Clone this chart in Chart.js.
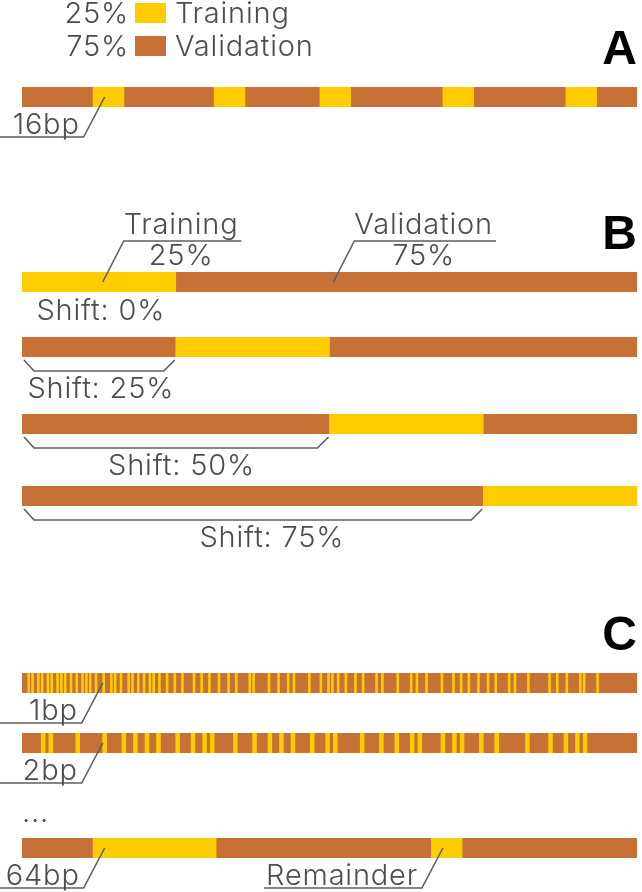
<!DOCTYPE html>
<html>
<head>
<meta charset="utf-8">
<script src="https://cdn.jsdelivr.net/npm/chart.js@4.4.1/dist/chart.umd.min.js"></script>
<style>
  body { margin: 0; background: #fff; }
  #wrap { position: relative; width: 642px; height: 892px; overflow: hidden; }
  #wrap canvas { position: absolute; left: 0; top: 0; }
</style>
</head>
<body>
<div id="wrap"></div>
<script>
// colours
const TRAIN = '#ffcc00';
const VALID = '#c87137';
const INK = '#4d4d4d';
const LINE = '#5f5f5f';
const FONT = '300 29px Inter, "Open Sans", sans-serif';
const BOLD = 'bold 48px "Liberation Sans", Arial, sans-serif';

// the split
const splitLabels = ['Training', 'Validation'];
const splitShares = [25, 75];

// length of the sequence drawn in every bar (bp)
const SEQ_LEN = 320;

// A: 16bp blocks (start, bp)
const blockLen = 16;
const blockStarts = [37, 100, 155, 219, 283];

// B: shift of the training window (%)
const shifts = [0, 25, 50, 75];

// C: training stripes at 1bp and 2bp resolution (start, bp)
const stripes1bp = [3, 5, 8, 10, 13, 15, 18, 20, 22, 25, 28, 31, 33, 35, 38, 42, 46, 48, 51, 55,
  57, 60, 63, 66, 68, 71, 75, 79, 83, 89, 93, 97, 102, 107, 111, 118, 120, 128, 133, 138,
  141, 149, 155, 159, 161, 164, 168, 173, 177, 184, 187, 195, 202, 205, 210, 218, 224, 228,
  232, 237, 242, 246, 253, 256, 263, 274, 278, 283, 290, 292, 299];
const stripes2bp = [10, 14, 28, 42, 52, 58, 64, 70, 80, 88, 94, 98, 110, 120, 128, 134, 140,
  150, 158, 162, 176, 186, 194, 202, 206, 218, 224, 228, 238, 246, 262, 274, 282, 288, 292];
// C: 64bp blocks, and the short remainder block
const blocks64 = [[37, 101]];
const remainderBlocks = [[213, 229]];

// text + leaders drawn around each bar
const notesPlugin = {
  id: 'notes',
  afterDatasetsDraw(chart, args, opts) {
    const ctx = chart.ctx;
    const xs = chart.scales.x;
    const { top, bottom, right } = chart.chartArea;
    const mid = (top + bottom) / 2;
    ctx.save();
    ctx.strokeStyle = LINE;
    ctx.lineWidth = 1.6;
    ctx.fillStyle = INK;
    ctx.font = FONT;
    ctx.letterSpacing = '0.8px';
    ctx.textBaseline = 'alphabetic';
    for (const n of opts.items || []) {
      if (n.kind === 'legend') {
        splitLabels.forEach((lab, i) => {
          const base = 23 + i * 33;
          ctx.textAlign = 'right';
          ctx.fillStyle = INK;
          ctx.fillText(splitShares[i] + '%', 129, base);
          ctx.fillStyle = i === 0 ? TRAIN : VALID;
          ctx.fillRect(135, base - 20, 31, 20);
          ctx.fillStyle = INK;
          ctx.textAlign = 'left';
          ctx.fillText(lab, 175, base);
        });
      } else if (n.kind === 'panel') {
        ctx.save();
        ctx.font = BOLD;
        ctx.letterSpacing = '0px';
        ctx.fillStyle = '#000';
        ctx.textAlign = 'right';
        ctx.fillText(n.text, right, top - 23);
        ctx.restore();
      } else if (n.kind === 'down') {
        const px = xs.getPixelForValue(n.at);
        const ex = px - 21, ey = mid + 40;
        const w = ctx.measureText(n.text).width;
        const tx = ex - 4 - w;
        ctx.beginPath();
        ctx.moveTo(px, mid);
        ctx.lineTo(ex, ey);
        ctx.lineTo(n.toEdge ? 0 : tx - 2, ey);
        ctx.stroke();
        ctx.textAlign = 'left';
        ctx.fillText(n.text, tx, ey - 3);
      } else if (n.kind === 'up') {
        const px = xs.getPixelForValue(n.at);
        const ex = px + 21, ey = mid - 41;
        const w = ctx.measureText(n.text).width;
        ctx.beginPath();
        ctx.moveTo(px, mid);
        ctx.lineTo(ex, ey);
        ctx.lineTo(ex + w + 3, ey);
        ctx.stroke();
        ctx.textAlign = 'left';
        ctx.fillText(n.text, ex, ey - 7);
        ctx.textAlign = 'center';
        ctx.fillText(n.sub, ex + w / 2, ey + 24);
      } else if (n.kind === 'below') {
        ctx.textAlign = 'center';
        ctx.fillText(n.text, xs.getPixelForValue(n.at), bottom + 28);
      } else if (n.kind === 'bracket') {
        const x0 = xs.getPixelForValue(0), x1 = xs.getPixelForValue(n.to);
        ctx.beginPath();
        ctx.moveTo(x0 + 2, bottom + 3);
        ctx.lineTo(x0 + 12, bottom + 14);
        ctx.lineTo(x1 - 12, bottom + 14);
        ctx.lineTo(x1 - 1, bottom + 3);
        ctx.stroke();
        ctx.textAlign = 'center';
        ctx.fillText(n.text, xs.getPixelForValue(n.at), bottom + 41);
      } else if (n.kind === 'above') {
        ctx.textAlign = 'left';
        ctx.fillText(n.text, xs.getPixelForValue(n.at), top - 16);
      }
    }
    ctx.restore();
  }
};

const wrap = document.getElementById('wrap');
const W = 642, H = 892, BAR = 20;

function addRow(top, train, items) {
  const cv = document.createElement('canvas');
  cv.width = W;
  cv.height = H;
  wrap.appendChild(cv);
  // training first: chart.js paints dataset 0 on top
  return new Chart(cv, {
    type: 'bar',
    data: {
      datasets: [
        { label: splitLabels[0], data: train.map(s => ({ y: 0, x: s })), backgroundColor: TRAIN, stack: 'seq', order: 0 },
        { label: splitLabels[1], data: [{ y: 0, x: [0, SEQ_LEN] }], backgroundColor: VALID, stack: 'seq', order: 1 }
      ]
    },
    options: {
      indexAxis: 'y',
      responsive: false,
      animation: false,
      devicePixelRatio: 1,
      datasets: { bar: { barThickness: BAR, borderWidth: 0 } },
      layout: { padding: { left: 22, right: 5, top: top, bottom: H - top - BAR } },
      scales: {
        x: { type: 'linear', min: 0, max: SEQ_LEN, stacked: false, display: false },
        y: { type: 'linear', min: -0.5, max: 0.5, display: false }
      },
      plugins: {
        legend: { display: false },
        tooltip: { enabled: false },
        notes: { items: items }
      }
    },
    plugins: [notesPlugin]
  });
}

// A
addRow(87, blockStarts.map(s => [s, s + blockLen]), [
  { kind: 'legend' },
  { kind: 'panel', text: 'A' },
  { kind: 'down', at: 43, text: blockLen + 'bp', toEdge: true }
]);

// B
const winLen = SEQ_LEN * splitShares[0] / 100;
const bTops = [272, 337, 414, 486];
const shiftLabelAt = [41, 41, 83, 130];
shifts.forEach((sh, i) => {
  const start = SEQ_LEN * sh / 100;
  const items = [];
  if (i === 0) {
    items.push({ kind: 'panel', text: 'B' });
    items.push({ kind: 'up', at: 42, text: splitLabels[0], sub: splitShares[0] + '%' });
    items.push({ kind: 'up', at: 162, text: splitLabels[1], sub: splitShares[1] + '%' });
    items.push({ kind: 'below', at: shiftLabelAt[i], text: 'Shift: ' + sh + '%' });
  } else {
    items.push({ kind: 'bracket', to: start, at: shiftLabelAt[i], text: 'Shift: ' + sh + '%' });
  }
  addRow(bTops[i], [[start, start + winLen]], items);
});

// C
addRow(673, stripes1bp.map(s => [s, s + 1]), [
  { kind: 'panel', text: 'C' },
  { kind: 'down', at: 42, text: '1bp', toEdge: true }
]);
addRow(733, stripes2bp.map(s => [s, s + 2]), [
  { kind: 'down', at: 42, text: '2bp', toEdge: true }
]);
addRow(838, blocks64.concat(remainderBlocks), [
  { kind: 'above', at: 0, text: '...' },
  { kind: 'down', at: 43, text: '64bp', toEdge: true },
  { kind: 'down', at: 219, text: 'Remainder', toEdge: false }
]);
</script>
</body>
</html>
